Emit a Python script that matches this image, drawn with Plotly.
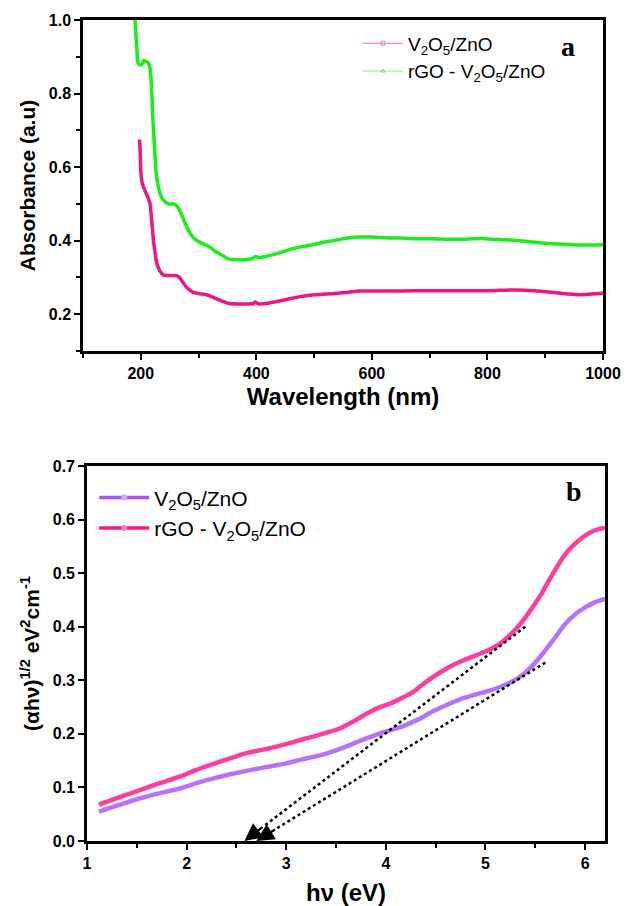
import plotly.graph_objects as go

# ---------------- Panel a: absorbance spectra ----------------
wl_rgo = [190, 191, 193, 195, 198, 202, 205, 208, 212, 216, 222, 227, 233, 239, 248, 256, 262, 268,
          276, 285, 293, 302, 310, 320, 330, 337, 346, 354, 365, 375, 389, 395, 398, 401, 406, 415,
          424, 440, 460, 480, 500, 520, 540, 560, 580, 600, 620, 650, 680, 700, 730, 760, 790, 810,
          840, 870, 900, 930, 960, 1000]
abs_rgo = [1.0, 0.97, 0.93, 0.885, 0.878, 0.88, 0.89, 0.888, 0.885, 0.87, 0.70, 0.58, 0.53, 0.51,
           0.50, 0.50, 0.495, 0.48, 0.45, 0.42, 0.405, 0.395, 0.39, 0.382, 0.37, 0.364, 0.355, 0.349,
           0.348, 0.348, 0.35, 0.353, 0.357, 0.356, 0.354, 0.357, 0.36, 0.367, 0.377, 0.384, 0.39,
           0.397, 0.402, 0.408, 0.41, 0.41, 0.408, 0.407, 0.405, 0.405, 0.404, 0.404, 0.406, 0.404,
           0.402, 0.398, 0.393, 0.39, 0.388, 0.389]

wl_vz = [198, 199, 200, 202, 205, 209, 213, 216, 222, 228, 233, 239, 250, 262, 268, 273, 280, 290,
         300, 314, 322, 331, 342, 354, 370, 389, 395, 398, 401, 405, 417, 440, 460, 480, 500, 520,
         540, 560, 580, 600, 650, 700, 750, 800, 850, 880, 910, 940, 960, 980, 1000]
abs_vz = [0.675, 0.64, 0.59, 0.56, 0.545, 0.53, 0.515, 0.50, 0.40, 0.337, 0.318, 0.307, 0.305, 0.305,
          0.298, 0.286, 0.272, 0.26, 0.256, 0.253, 0.248, 0.242, 0.235, 0.229, 0.228, 0.228, 0.229,
          0.233, 0.23, 0.228, 0.229, 0.236, 0.243, 0.249, 0.253, 0.255, 0.257, 0.26, 0.263, 0.263,
          0.263, 0.264, 0.264, 0.264, 0.266, 0.264, 0.26, 0.255, 0.253, 0.255, 0.257]

# ---------------- Panel b: Tauc plot ----------------
ev = [1.12, 1.3, 1.5, 1.7, 1.93, 2.1, 2.27, 2.45, 2.6, 2.8, 3.0, 3.15, 3.27, 3.4, 3.54, 3.61, 3.7,
      3.81, 3.94, 4.05, 4.14, 4.28, 4.34, 4.45, 4.61, 4.75, 4.95, 5.05, 5.15, 5.25, 5.35, 5.45, 5.55,
      5.68, 5.8, 5.9, 6.0, 6.1, 6.2]
tauc_rgo = [0.068, 0.08, 0.093, 0.106, 0.120, 0.133, 0.144, 0.155, 0.164, 0.172, 0.181, 0.189, 0.195,
            0.202, 0.21, 0.217, 0.226, 0.238, 0.25, 0.257, 0.265, 0.279, 0.288, 0.303, 0.322, 0.335,
            0.35, 0.358, 0.369, 0.385, 0.405, 0.43, 0.458, 0.5, 0.535, 0.555, 0.57, 0.58, 0.585]
tauc_vz = [0.055, 0.066, 0.078, 0.088, 0.098, 0.108, 0.117, 0.125, 0.131, 0.138, 0.145, 0.152, 0.157,
           0.163, 0.172, 0.177, 0.184, 0.192, 0.201, 0.207, 0.212, 0.223, 0.228, 0.24, 0.254, 0.265,
           0.276, 0.281, 0.288, 0.296, 0.307, 0.323, 0.344, 0.375, 0.405, 0.423, 0.436, 0.446, 0.452]

# tangent (band-gap extrapolation) lines: start -> end on the energy axis
tan_rgo_x = [5.4, 2.58]
tan_rgo_y = [0.40, 0.0]
tan_vz_x = [5.6, 2.7]
tan_vz_y = [0.333, 0.0]

name_vz = "V<sub>2</sub>O<sub>5</sub>/ZnO"
name_rgo = "rGO - V<sub>2</sub>O<sub>5</sub>/ZnO"

C_PINK_A = "#ee1585"
C_GREEN_A = "#1cee1c"
C_PINK_B = "#ff3d9e"
C_PURPLE_B = "#b572ff"

FONT = "Liberation Sans"

fig = go.Figure()

# Panel a traces
fig.add_trace(go.Scatter(x=wl_rgo, y=abs_rgo, mode="lines",
                         line=dict(color=C_GREEN_A, width=3.5, shape="spline", smoothing=0.6),
                         showlegend=False, xaxis="x", yaxis="y"))
fig.add_trace(go.Scatter(x=wl_vz, y=abs_vz, mode="lines",
                         line=dict(color=C_PINK_A, width=3.5, shape="spline", smoothing=0.6),
                         showlegend=False, xaxis="x", yaxis="y"))
# legend entries for panel a (thin line + small open marker)
fig.add_trace(go.Scatter(x=[None], y=[None], mode="lines+markers", name=name_vz,
                         line=dict(color="#f28cc0", width=1.2),
                         marker=dict(symbol="square-open", size=4, color="#e67fb5"),
                         xaxis="x", yaxis="y", legend="legend"))
fig.add_trace(go.Scatter(x=[None], y=[None], mode="lines+markers", name=name_rgo,
                         line=dict(color="#8ee88e", width=1.2),
                         marker=dict(symbol="triangle-up-open", size=4, color="#7fd87f"),
                         xaxis="x", yaxis="y", legend="legend"))

# Panel b traces
fig.add_trace(go.Scatter(x=ev, y=tauc_vz, mode="lines", showlegend=False,
                         line=dict(color=C_PURPLE_B, width=4.5, shape="spline", smoothing=0.8),
                         xaxis="x2", yaxis="y2"))
fig.add_trace(go.Scatter(x=ev, y=tauc_rgo, mode="lines", showlegend=False,
                         line=dict(color=C_PINK_B, width=4.5, shape="spline", smoothing=0.8),
                         xaxis="x2", yaxis="y2"))
# legend entries for panel b (line + small dot)
fig.add_trace(go.Scatter(x=[None], y=[None], mode="lines+markers", name=name_vz,
                         line=dict(color="#a855f7", width=3.5),
                         marker=dict(symbol="circle", size=6, color="#d3a8ff"),
                         xaxis="x2", yaxis="y2", legend="legend2"))
fig.add_trace(go.Scatter(x=[None], y=[None], mode="lines+markers", name=name_rgo,
                         line=dict(color="#f5187f", width=3.5),
                         marker=dict(symbol="circle", size=6, color="#ff7fbf"),
                         xaxis="x2", yaxis="y2", legend="legend2"))

# dotted tangent lines with arrowheads
for tx, ty in [(tan_rgo_x, tan_rgo_y), (tan_vz_x, tan_vz_y)]:
    fx = tx[1] + 0.07 * (tx[0] - tx[1])
    fy = ty[1] + 0.07 * (ty[0] - ty[1])
    fig.add_trace(go.Scatter(x=[tx[0], fx], y=[ty[0], fy], mode="lines",
                             line=dict(color="black", width=2.5, dash="dot"),
                             showlegend=False, xaxis="x2", yaxis="y2"))
    fig.add_annotation(x=tx[1], y=ty[1], ax=fx, ay=fy, xref="x2", yref="y2",
                       axref="x2", ayref="y2", showarrow=True, arrowhead=2, arrowsize=1.6,
                       arrowwidth=2.2, arrowcolor="black", text="")

# panel labels
fig.add_annotation(text="<b>a</b>", x=0.918, y=0.968, xref="paper", yref="paper",
                   showarrow=False, font=dict(family="Liberation Serif", size=28, color="black"))
fig.add_annotation(text="<b>b</b>", x=0.93, y=0.457, xref="paper", yref="paper",
                   showarrow=False, font=dict(family="Liberation Serif", size=28, color="black"))

axis_common = dict(showline=True, linecolor="black", linewidth=2.5, mirror=True, showgrid=False,
                   zeroline=False, ticks="outside", ticklen=6, tickwidth=2, tickcolor="black",
                   automargin=False,
                   tickfont=dict(family=FONT, size=16, color="black", weight="bold"))

fig.update_layout(
    width=628, height=906,
    margin=dict(l=0, r=0, t=0, b=0),
    paper_bgcolor="white", plot_bgcolor="white",
    font=dict(family=FONT, color="black"),
    xaxis=dict(domain=[0.1322, 0.9602], anchor="y", range=[100, 1000], dtick=200, tick0=0,
               minor=dict(dtick=100, ticklen=4, tickwidth=2, tickcolor="black", ticks="outside"),
               title=dict(text="Wavelength (nm)", standoff=8,
                          font=dict(family=FONT, size=24, weight="bold")),
               **axis_common),
    yaxis=dict(domain=[0.6126, 0.9779], anchor="x", range=[0.1, 1.0], dtick=0.2, tick0=0,
               tickformat=".1f",
               minor=dict(dtick=0.1, ticklen=4, tickwidth=2, tickcolor="black", ticks="outside"),
               title=dict(text="Absorbance (a.u)", standoff=8,
                          font=dict(family=FONT, size=21, weight="bold")),
               **axis_common),
    xaxis2=dict(domain=[0.1385, 0.9634], anchor="y2", range=[1, 6.2], dtick=1, tick0=0,
                minor=dict(dtick=0.5, ticklen=4, tickwidth=2, tickcolor="black", ticks="outside"),
                title=dict(text="hν (eV)", standoff=14,
                           font=dict(family=FONT, size=24, weight="bold")),
                **axis_common),
    yaxis2=dict(domain=[0.0717, 0.4857], anchor="x2", range=[0, 0.7], dtick=0.1, tick0=0,
                tickformat=".1f",
                title=dict(text="(αhν)<sup>1/2</sup> eV<sup>2</sup>cm<sup>-1</sup>", standoff=8,
                           font=dict(family=FONT, size=21, weight="bold")),
                **axis_common),
    legend=dict(x=0.57, y=0.973, xanchor="left", yanchor="top", bgcolor="rgba(0,0,0,0)",
                font=dict(family=FONT, size=19, color="black"), itemwidth=40,
                tracegroupgap=0),
    legend2=dict(x=0.15, y=0.473, xanchor="left", yanchor="top", bgcolor="rgba(0,0,0,0)",
                 font=dict(family=FONT, size=21, color="black"), itemwidth=50),
)

fig.write_html("out.html")
